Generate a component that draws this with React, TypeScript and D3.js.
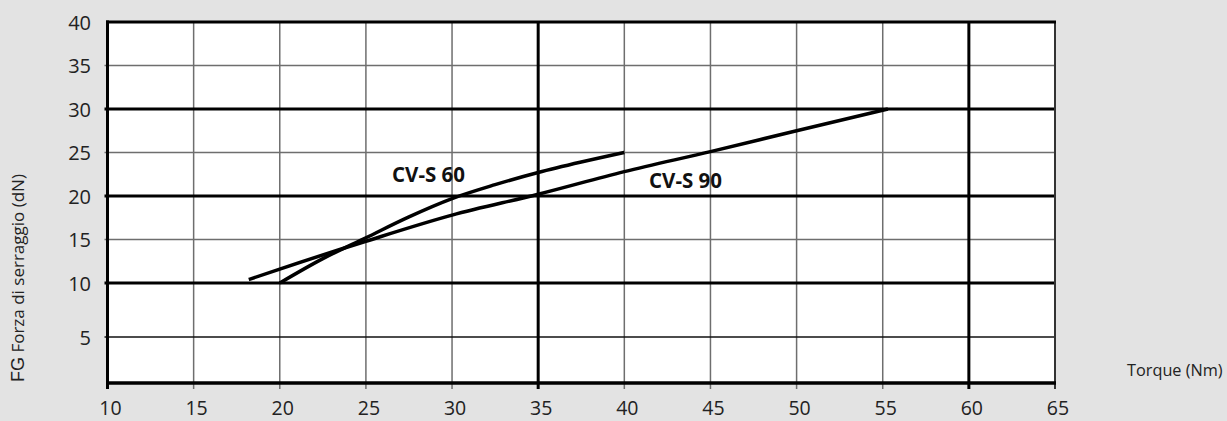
import React from "react";
import * as d3 from "d3";

const xTicks = [10, 15, 20, 25, 30, 35, 40, 45, 50, 55, 60, 65];
const xThick = [35, 60];
const yTicks = [5, 10, 15, 20, 25, 30, 35, 40];
const yThick = [10, 20, 30];

const cvs60X = [20, 22.5, 25, 27.5, 30, 32.5, 35, 37.5, 40];
const cvs60Y = [10, 12.8, 15.2, 17.6, 19.7, 21.3, 22.7, 23.9, 25];
const cvs90X = [18.2, 20, 25, 30, 35, 40, 45, 50, 55.3];
const cvs90Y = [10.4, 11.6, 14.8, 17.8, 20.2, 22.8, 25.1, 27.5, 30];

const W = 1227;
const H = 421;
const FONT = "'Open Sans', 'DejaVu Sans', sans-serif";

export default function App() {
  const x = d3.scaleLinear().domain([10, 65]).range([107.5, 1055]);
  const y = d3.scaleLinear().domain([0, 5, 10, 40]).range([383, 337, 283, 22]);
  const line = d3
    .line<[number, number]>()
    .x((d) => x(d[0]))
    .y((d) => y(d[1]))
    .curve(d3.curveMonotoneX);
  const s60 = cvs60X.map((v, i) => [v, cvs60Y[i]] as [number, number]);
  const s90 = cvs90X.map((v, i) => [v, cvs90Y[i]] as [number, number]);
  const x0 = x(10), x1 = x(65), y0 = y(0), y1 = y(40);

  return (
    <div style={{ position: "absolute", left: 0, top: 0 }}>
      <svg width={W} height={H} style={{ display: "block" }}>
        <rect x={0} y={0} width={W} height={H} fill="#e3e3e3" />
        <rect x={x0} y={y1} width={x1 - x0} height={y0 - y1} fill="#ffffff" />
        {/* thin grid */}
        {xTicks.filter((t) => !xThick.includes(t) && t !== 10).map((t) => (
          <line key={"vx" + t} x1={x(t)} x2={x(t)} y1={y1} y2={y0 + 6} stroke="#6e6e6e" strokeWidth={1.5} />
        ))}
        {yTicks.filter((t) => !yThick.includes(t) && t !== 40).map((t) => (
          <line key={"hy" + t} x1={x0 - 3} x2={x1} y1={y(t)} y2={y(t)} stroke={t === 5 ? "#111" : "#6e6e6e"} strokeWidth={1.5} />
        ))}
        {/* thick grid */}
        {yThick.map((t) => (
          <line key={"hY" + t} x1={x0 - 3} x2={x1} y1={y(t)} y2={y(t)} stroke="#000" strokeWidth={3} />
        ))}
        {xThick.map((t) => (
          <line key={"vX" + t} x1={x(t)} x2={x(t)} y1={y1} y2={y0 + 6} stroke="#000" strokeWidth={3} />
        ))}
        {/* borders */}
        <line x1={x1} x2={x1} y1={y1} y2={y0 + 6} stroke="#333" strokeWidth={2} />
        <line x1={x0 - 1.5} x2={x1 + 1} y1={y1} y2={y1} stroke="#000" strokeWidth={3} />
        <line x1={x0} x2={x0} y1={y1 - 1.5} y2={y0 + 6} stroke="#000" strokeWidth={3} />
        <line x1={x0 - 1.5} x2={x1 + 1} y1={y0} y2={y0} stroke="#000" strokeWidth={3.5} />
        {/* curves */}
        <path d={line(s60) || ""} fill="none" stroke="#000" strokeWidth={3.5} />
        <path d={line(s90) || ""} fill="none" stroke="#000" strokeWidth={3.5} />
        <text x={392} y={182} fontFamily={FONT} fontWeight="bold" fontSize={20.5} fill="#111">CV-S 60</text>
        <text x={649} y={188} fontFamily={FONT} fontWeight="bold" fontSize={20.5} fill="#111">CV-S 90</text>
        {/* tick labels */}
        {xTicks.map((t) => (
          <text key={"xl" + t} x={x(t) + 3} y={415} textAnchor="middle" fontFamily={FONT} fontSize={19.5} fill="#222">{t}</text>
        ))}
        {yTicks.map((t) => (
          <text key={"yl" + t} x={91} y={y(t) + 7.5} textAnchor="end" fontFamily={FONT} fontSize={20} fill="#222">{t}</text>
        ))}
        <text x={1127} y={376} fontFamily={FONT} fontSize={16.3} fill="#222">Torque (Nm)</text>
        <text transform="translate(24,382) rotate(-90)" fontFamily={FONT} fontSize={17} fill="#222">
          <tspan fontSize={18} fontFamily="'Liberation Sans', Arial, sans-serif">FG</tspan>
          <tspan> Forza di serraggio (dN)</tspan>
        </text>
      </svg>
    </div>
  );
}
